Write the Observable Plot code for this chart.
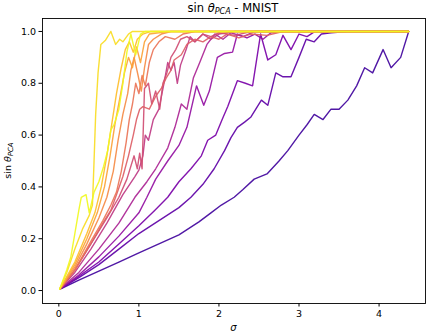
<!DOCTYPE html>
<html><head><meta charset="utf-8">
<script src="https://cdn.jsdelivr.net/npm/d3@7"></script>
<script src="https://cdn.jsdelivr.net/npm/@observablehq/plot@0.6"></script>
<style>
body{margin:0;background:#fff;font-family:"DejaVu Sans",sans-serif;}
#title{width:426px;height:18px;box-sizing:border-box;padding-left:40px;text-align:center;font-size:11.5px;line-height:17px;color:#000;white-space:nowrap;}
#title sub{font-size:8px;vertical-align:-2px;line-height:0;}
</style></head>
<body>
<div id="title">sin <i>θ</i><sub><i>PCA</i></sub> - MNIST</div>
<div id="chart"></div>
<script>
const xTicks = [0, 1, 2, 3, 4];
const yTicks = [0, 0.2, 0.4, 0.6, 0.8, 1.0];
const colorT = [0.1, 0.17, 0.24, 0.31, 0.38, 0.45, 0.52, 0.58, 0.65, 0.72, 0.79, 0.86, 0.93, 1.0];

const L1 = [[0.01,0.005],[0.25,0.04],[0.5,0.075],[0.75,0.11],[1.0,0.145],[1.25,0.18],[1.5,0.215],[1.75,0.265],[1.9,0.3],[2.03,0.33],[2.19,0.36],[2.3,0.39],[2.44,0.43],[2.6,0.45],[2.75,0.5],[2.86,0.54],[3.0,0.6],[3.1,0.64],[3.19,0.68],[3.3,0.66],[3.4,0.70],[3.5,0.70],[3.61,0.735],[3.72,0.79],[3.82,0.86],[3.92,0.84],[4.05,0.93],[4.15,0.86],[4.27,0.90],[4.37,1.0]];
const L2 = [[0.01,0.005],[0.25,0.05],[0.5,0.1],[0.75,0.16],[1.0,0.22],[1.25,0.27],[1.5,0.32],[1.65,0.36],[1.8,0.41],[1.94,0.47],[2.07,0.54],[2.15,0.59],[2.23,0.63],[2.32,0.65],[2.4,0.67],[2.53,0.735],[2.61,0.715],[2.71,0.84],[2.8,0.825],[2.9,0.825],[3.0,0.9],[3.09,0.97],[3.19,0.96],[3.28,0.99],[3.4,0.995],[3.6,1],[4.37,1]];
const L3 = [[0.01,0.005],[0.25,0.055],[0.5,0.11],[0.75,0.18],[1.0,0.25],[1.2,0.31],[1.36,0.36],[1.5,0.42],[1.65,0.47],[1.78,0.52],[1.86,0.58],[1.96,0.60],[2.04,0.66],[2.11,0.71],[2.23,0.81],[2.33,0.80],[2.42,0.79],[2.52,0.99],[2.61,0.89],[2.71,0.91],[2.8,0.985],[2.9,0.93],[3.0,0.99],[3.1,0.98],[3.2,1],[4.37,1]];
const L4 = [[0.01,0.005],[0.25,0.06],[0.5,0.13],[0.75,0.21],[1.0,0.30],[1.1,0.36],[1.21,0.43],[1.36,0.50],[1.5,0.56],[1.6,0.63],[1.72,0.79],[1.81,0.715],[1.88,0.77],[1.98,0.90],[2.07,0.915],[2.17,0.92],[2.23,0.99],[2.35,0.975],[2.45,0.99],[2.55,0.97],[2.65,0.995],[2.8,1],[4.37,1]];
const L5 = [[0.01,0.005],[0.25,0.07],[0.5,0.16],[0.75,0.26],[0.95,0.36],[1.1,0.42],[1.21,0.47],[1.36,0.55],[1.45,0.63],[1.53,0.72],[1.6,0.70],[1.68,0.82],[1.76,0.88],[1.85,0.95],[1.95,0.99],[2.05,0.97],[2.15,0.995],[2.3,0.98],[2.45,1],[4.37,1]];
const L6 = [[0.01,0.005],[0.2,0.07],[0.4,0.16],[0.6,0.26],[0.8,0.37],[0.95,0.44],[1.0,0.465],[1.05,0.52],[1.08,0.6],[1.12,0.58],[1.18,0.66],[1.25,0.70],[1.32,0.81],[1.36,0.88],[1.4,0.85],[1.44,0.88],[1.48,0.80],[1.52,0.87],[1.59,0.93],[1.64,0.98],[1.7,0.96],[1.8,0.99],[1.9,0.97],[2.0,0.99],[2.2,1],[4.37,1]];
const L7 = [[0.01,0.005],[0.2,0.08],[0.4,0.18],[0.6,0.28],[0.75,0.36],[0.85,0.43],[0.94,0.52],[0.98,0.47],[1.01,0.53],[1.04,0.47],[1.07,0.78],[1.12,0.80],[1.16,0.72],[1.21,0.77],[1.26,0.70],[1.3,0.80],[1.35,0.84],[1.4,0.90],[1.46,0.93],[1.52,0.97],[1.6,0.98],[1.7,0.96],[1.8,0.99],[1.9,0.98],[2.0,0.995],[2.2,0.985],[2.4,1],[4.37,1]];
const L8 = [[0.01,0.005],[0.2,0.08],[0.4,0.18],[0.55,0.26],[0.65,0.31],[0.72,0.37],[0.8,0.44],[0.87,0.52],[0.93,0.60],[0.97,0.66],[1.01,0.70],[1.05,0.71],[1.13,0.70],[1.21,0.75],[1.28,0.78],[1.34,0.82],[1.4,0.85],[1.44,0.89],[1.53,0.91],[1.6,0.95],[1.7,0.97],[1.8,0.96],[1.9,0.98],[2.0,0.97],[2.1,0.99],[2.25,0.975],[2.4,0.99],[2.6,0.985],[2.8,1],[4.37,1]];
const L9 = [[0.01,0.005],[0.2,0.08],[0.4,0.19],[0.55,0.27],[0.65,0.33],[0.72,0.38],[0.78,0.46],[0.84,0.57],[0.88,0.66],[0.92,0.72],[0.96,0.80],[1.0,0.76],[1.04,0.83],[1.08,0.79],[1.13,0.88],[1.18,0.93],[1.25,0.96],[1.33,0.98],[1.45,0.97],[1.55,0.99],[1.7,1],[4.37,1]];
const L10 = [[0.01,0.005],[0.2,0.09],[0.35,0.18],[0.5,0.28],[0.6,0.36],[0.68,0.46],[0.74,0.58],[0.8,0.68],[0.86,0.76],[0.9,0.85],[0.94,0.90],[0.99,0.83],[1.03,0.77],[1.07,0.86],[1.12,0.95],[1.18,0.97],[1.28,0.99],[1.4,1],[4.37,1]];
const L11 = [[0.01,0.005],[0.2,0.1],[0.35,0.2],[0.48,0.3],[0.57,0.4],[0.64,0.52],[0.7,0.64],[0.76,0.74],[0.82,0.84],[0.87,0.90],[0.92,0.86],[0.97,0.94],[1.02,0.88],[1.07,0.96],[1.13,0.99],[1.25,0.995],[1.35,1],[4.37,1]];
const L12 = [[0.01,0.005],[0.2,0.11],[0.35,0.22],[0.45,0.3],[0.53,0.4],[0.6,0.52],[0.66,0.64],[0.72,0.76],[0.78,0.86],[0.83,0.93],[0.88,0.96],[0.93,0.92],[0.98,0.97],[1.05,0.99],[1.15,1],[4.37,1]];
const L13 = [[0.01,0.005],[0.1,0.07],[0.2,0.16],[0.3,0.24],[0.38,0.29],[0.42,0.33],[0.44,0.5],[0.46,0.68],[0.49,0.84],[0.525,0.95],[0.58,0.965],[0.65,1.0],[0.71,0.95],[0.76,0.97],[0.8,0.96],[0.87,0.99],[0.92,1.0],[4.37,1]];
const L14 = [[0.01,0.005],[0.1,0.08],[0.15,0.13],[0.2,0.22],[0.25,0.31],[0.28,0.36],[0.34,0.37],[0.38,0.30],[0.44,0.38],[0.5,0.42],[0.56,0.48],[0.61,0.54],[0.65,0.62],[0.69,0.64],[0.75,0.70],[0.8,0.80],[0.85,0.92],[0.9,0.99],[0.96,0.91],[1.02,0.99],[1.08,1.0],[4.37,1]];

const series = [L1, L2, L3, L4, L5, L6, L7, L8, L9, L10, L11, L12, L13, L14];
const rows = series.flatMap((pts, i) => pts.map(([s, v]) => ({id: i, t: colorT[i], s, v})));

const H = 316;
const svg = Plot.plot({
  width: 426, height: H,
  marginLeft: 42, marginRight: 1, marginTop: 0, marginBottom: 31,
  style: {fontFamily: "DejaVu Sans, sans-serif", fontSize: "9.5px", background: "white", color: "black", overflow: "visible"},
  x: {domain: [-0.204, 4.58]},
  y: {domain: [-0.05, 1.05]},
  color: {type: "linear", scheme: "plasma", domain: [0, 1]},
  marks: [
    Plot.line(rows, {x: "s", y: "v", z: "id", stroke: "t", strokeWidth: 1.4, strokeOpacity: 0.92}),
    Plot.frame({stroke: "black", strokeWidth: 0.9}),
    Plot.axisX({ticks: xTicks, tickFormat: d => String(d), tickSize: 3.5, tickPadding: 3, label: null}),
    Plot.axisY({ticks: yTicks, tickFormat: d3.format(".1f"), tickSize: 3.5, tickPadding: 3, label: null})
  ]
});
const s = d3.select(svg);
const midY = (0 + (H - 31)) / 2;
const yl = s.append("text")
  .attr("transform", `translate(11,${midY}) rotate(-90)`)
  .attr("text-anchor", "middle")
  .attr("font-size", "9.5px").attr("fill", "black");
yl.append("tspan").text("sin ");
yl.append("tspan").attr("font-style", "italic").text("θ");
yl.append("tspan").attr("font-style", "italic").attr("font-size", "7px").attr("dy", "2").text("PCA");
s.append("text")
  .attr("x", (42 + 425) / 2).attr("y", H - 3)
  .attr("text-anchor", "middle").attr("font-style", "italic")
  .attr("font-size", "10px").attr("fill", "black").text("σ");
document.getElementById("chart").appendChild(svg);
</script>
</body></html>
